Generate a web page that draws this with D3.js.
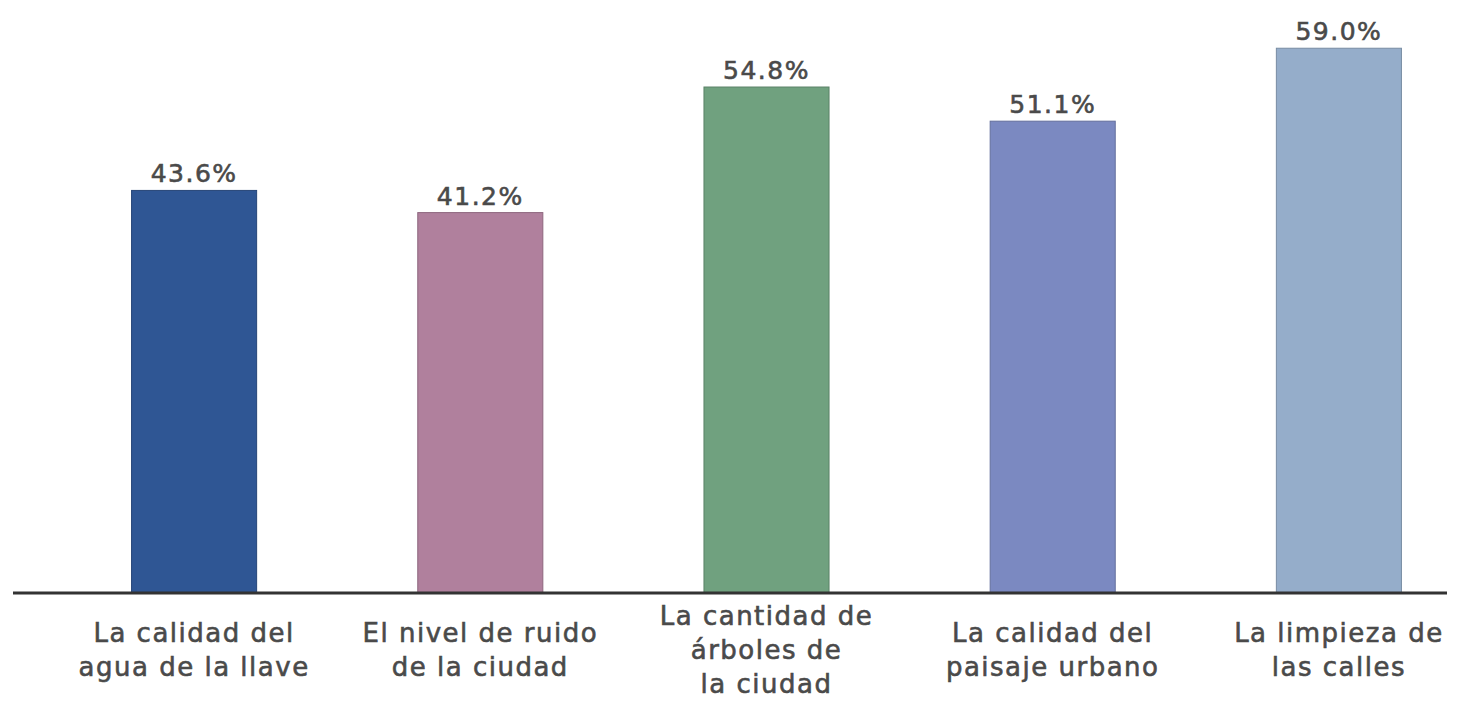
<!DOCTYPE html>
<html>
<head>
<meta charset="utf-8">
<script src="https://cdn.jsdelivr.net/npm/d3@7"></script>
<style>
  body { margin: 0; background: #fff; }
  text { font-family: "DejaVu Sans", sans-serif; fill: #4a4a4a; stroke: #4a4a4a; stroke-width: 0.6px; }
</style>
</head>
<body>
<div id="chart"></div>
<script>
// data
const categories = [
  ['La calidad del', 'agua de la llave'],
  ['El nivel de ruido', 'de la ciudad'],
  ['La cantidad de', 'árboles de', 'la ciudad'],
  ['La calidad del', 'paisaje urbano'],
  ['La limpieza de', 'las calles']
];
const values = [43.6, 41.2, 54.8, 51.1, 59.0];
const barColors = ['#2f5694', '#b0809d', '#70a17f', '#7b89c1', '#95adca'];

const width = 1475, height = 703;
const baseY = 593;

const svg = d3.select('#chart')
  .append('svg')
  .attr('width', width)
  .attr('height', height);

const x = d3.scaleBand()
  .domain(d3.range(values.length))
  .range([51, 1482])
  .paddingInner(0.563)
  .paddingOuter(0.2815);

const y = d3.scaleLinear()
  .domain([0, 60])
  .range([baseY, 39]);

// bars
svg.selectAll('.bar')
  .data(values)
  .enter()
  .append('rect')
  .attr('class', 'bar')
  .attr('x', (d, i) => x(i))
  .attr('width', x.bandwidth())
  .attr('y', d => y(d))
  .attr('height', d => y(0) - y(d))
  .attr('fill', (d, i) => barColors[i])
  .attr('stroke', (d, i) => d3.color(barColors[i]).darker(0.6))
  .attr('stroke-width', 1);

// value labels
svg.selectAll('.label')
  .data(values)
  .enter()
  .append('text')
  .attr('class', 'label')
  .attr('x', (d, i) => x(i) + x.bandwidth() / 2)
  .attr('y', d => y(d) - 8)
  .attr('text-anchor', 'middle')
  .attr('font-size', 25)
  .attr('letter-spacing', 1.5)
  .text(d => d.toFixed(1) + '%');

// baseline
svg.append('line')
  .attr('x1', 13)
  .attr('x2', 1447)
  .attr('y1', y(0))
  .attr('y2', y(0))
  .attr('stroke', '#333')
  .attr('stroke-width', 3);

// category labels, centred around a common middle line
const lineH = 34;
const midY = 650;
const cat = svg.selectAll('.cat')
  .data(categories)
  .enter()
  .append('text')
  .attr('class', 'cat')
  .attr('text-anchor', 'middle')
  .attr('font-size', 26)
  .attr('letter-spacing', 1.5);

cat.each(function(lines, i) {
  const cx = x(i) + x.bandwidth() / 2;
  const y0 = midY - (lines.length - 1) * lineH / 2;
  d3.select(this).selectAll('tspan')
    .data(lines)
    .enter()
    .append('tspan')
    .attr('x', cx)
    .attr('y', (l, j) => y0 + j * lineH)
    .attr('dy', '0.35em')
    .text(l => l);
});
</script>
</body>
</html>
